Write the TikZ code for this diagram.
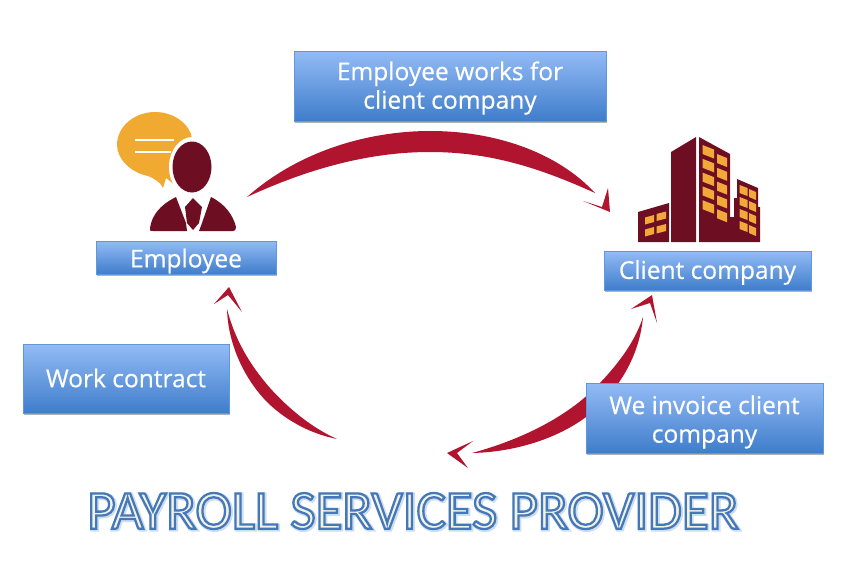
\documentclass[tikz,border=0pt]{standalone}
\usepackage{fontspec}
\setmainfont{Open Sans}[RawFeature={embolden=0.5}]
\newfontfamily\titlefont{Carlito}
\usetikzlibrary{shadows}
\definecolor{boxtop}{HTML}{93BBF5}
\definecolor{boxbot}{HTML}{3F7DCB}
\definecolor{crim}{HTML}{B0142F}
\definecolor{maroon}{HTML}{6E0E22}
\definecolor{amber}{HTML}{F0AA32}
\definecolor{winy}{HTML}{F2A93A}
\tikzset{
  bluebox/.style={rectangle,draw=boxbot!60!boxtop,line width=0.5pt,top color=boxtop,bottom color=boxbot,
    drop shadow={shadow xshift=0.7pt,shadow yshift=-1.2pt,opacity=.6},inner sep=0pt},
  boxtext/.style={text=white,align=center,inner sep=0pt,font=\fontsize{18.4}{21.4}\selectfont},
  crescent/.style={fill=crim,draw=none},
  bldg/.style={fill=maroon,draw=none},
  win/.style={fill=winy,draw=none},
}
\begin{document}
\begin{tikzpicture}[x=0.75pt,y=-0.75pt]
\useasboundingbox (0,0) rectangle (865,568);
% arrows
\fill[crescent] (247,197) .. controls (300,150) and (370,131) .. (430,131)
   .. controls (500,131) and (560,155) .. (595,193)
   .. controls (540,168) and (490,152) .. (430,152)
   .. controls (370,152) and (310,168) .. (247,197) -- cycle;
\fill[crescent] (583,201) -- (602,207) -- (608,188) -- (610,212) -- cycle;
\fill[crescent] (643,317) .. controls (640,350) and (625,380) .. (600,405)
   .. controls (570,435) and (520,452) .. (472,453)
   .. controls (520,440) and (565,418) .. (595,388)
   .. controls (617,366) and (635,342) .. (643,317) -- cycle;
\fill[crescent] (631,309) -- (652,295) -- (657,323) -- (650,303) -- cycle;
\fill[crescent] (473,441) -- (447,453) -- (468,468) -- (457,453) -- cycle;
\fill[crescent] (227,309) .. controls (228,345) and (245,380) .. (268,403)
   .. controls (288,422) and (312,434) .. (337,439)
   .. controls (312,428) and (288,408) .. (270,388)
   .. controls (250,365) and (235,340) .. (227,309) -- cycle;
\fill[crescent] (214,304) -- (229,287) -- (242,312) -- (228,295) -- cycle;
% person
\fill[amber] (163,188) .. controls (160,182) and (155,179) .. (148,176)
   .. controls (129,172) and (117,158) .. (117,145)
   .. controls (117,126) and (135,112) .. (155,112)
   .. controls (175,112) and (190,125) .. (192,138)
   -- (175,185) -- (166,178) -- cycle;
\fill[white] (192.5,167) ellipse [x radius=23.5,y radius=30];
\draw[white,line width=1.6pt] (135,140) -- (174,140) (135,152) -- (171,152);
\coordinate (headc) at (192,167);
\fill[maroon] (headc) ellipse [x radius=19.5,y radius=25.5];
\fill[maroon] (150,228) .. controls (152,215) and (160,205) .. (176,197) -- (186,223) -- (187,231) -- (153,231) .. controls (150,231) and (149,230) .. (150,228) -- cycle;
\fill[maroon] (193,198) -- (185,207) -- (187,223) -- (193,230) -- (199,223) -- (202,207) -- cycle;
\fill[maroon] (211,197) .. controls (225,204) and (233,215) .. (236,227) .. controls (236,230) and (235,231) .. (233,231) -- (199,231) -- (202,223) -- cycle;
% building
\fill[bldg] (638,212) -- (669,203) -- (669,242) -- (638,242) -- cycle;
\fill[bldg] (671,152) -- (696,137) -- (696,242) -- (671,242) -- cycle;
\fill[bldg] (699,137) -- (730,154) -- (730,217) -- (734,217) -- (734,198) -- (737,198) -- (737,179) -- (758,188) -- (758,207) -- (760,207) -- (760,242) -- (699,242) -- cycle;
\foreach \i in {0,...,4}{
  \fill[win] (702.5,145+13.8*\i) -- (714,149.5+13.8*\i) -- (714,158.5+13.8*\i) -- (702.5,154+13.8*\i) -- cycle;
  \fill[win] (717,154+13.8*\i) -- (727,158+13.8*\i) -- (727,167+13.8*\i) -- (717,163+13.8*\i) -- cycle;
}
\foreach \i in {0,...,3}{
  \fill[win] (739.5,185+12*\i) -- (747.5,188+12*\i) -- (747.5,196+12*\i) -- (739.5,193+12*\i) -- cycle;
  \fill[win] (749,189+12*\i) -- (756,192+12*\i) -- (756,200+12*\i) -- (749,197+12*\i) -- cycle;
}
\fill[win] (645,217.5) -- (654,215) -- (654,222) -- (645,224.5) -- cycle;
\fill[win] (656.5,214) -- (666,211.5) -- (666,218.5) -- (656.5,221) -- cycle;
\fill[win] (645,229.5) -- (654,227) -- (654,234) -- (645,236.5) -- cycle;
\fill[win] (656.5,226.5) -- (666,224) -- (666,231) -- (656.5,233.5) -- cycle;
% boxes
\node[bluebox,minimum width=234pt,minimum height=52.5pt] (works) at (450,86) {};
\node[boxtext] (workst) at (450,88) {Employee works for\\client company};
\node[bluebox,minimum width=135pt,minimum height=24.75pt] (emp) at (186,257.5) {};
\node[boxtext] (empt) at (186,261) {Employee};
\node[bluebox,minimum width=155pt,minimum height=29.25pt] (client) at (707.5,270.5) {};
\node[boxtext] (clientt) at (707.5,272.5) {Client company};
\node[bluebox,minimum width=154.5pt,minimum height=51.75pt] (contract) at (126,378.5) {};
\node[boxtext] (contractt) at (126,378) {Work contract};
\node[bluebox,minimum width=177.75pt,minimum height=52.5pt] (invoice) at (704.5,418) {};
\node[boxtext] (invoicet) at (704.5,422) {We invoice client\\company};
% title
\node[inner sep=0pt,font=\titlefont\fontsize{41.2}{44}\selectfont] (titleb) at (414,512)
  {\special{pdf:code q 2 Tr 3 w 0.80 0.87 0.95 RG 0.80 0.87 0.95 rg}PAYROLL SERVICES PROVIDER\special{pdf:code Q}};
\node[inner sep=0pt,font=\titlefont\fontsize{41.2}{44}\selectfont] (title) at (413,511)
  {\special{pdf:code q 2 Tr 1.7 w 0.27 0.47 0.72 RG 0.95 0.95 0.90 rg}PAYROLL SERVICES PROVIDER\special{pdf:code Q}};
\end{tikzpicture}
\end{document}
